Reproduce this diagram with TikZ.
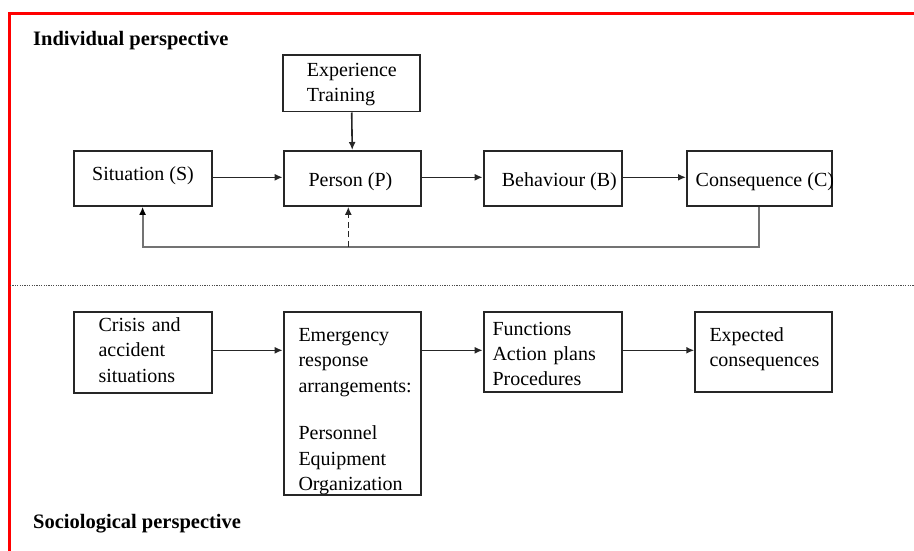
\documentclass[tikz,border=0pt]{standalone}
\usepackage{fontspec}
\setmainfont{Liberation Serif}
\usetikzlibrary{arrows.meta}
\begin{document}
\begin{tikzpicture}[x=1pt,y=-1pt,
  box/.style={draw=black!85, line width=1.8pt, inner sep=0pt, anchor=north west},
  lbl/.style={inner sep=0pt, anchor=base west, align=left, font=\fontsize{20}{25.3}\selectfont},
  title/.style={inner sep=0pt, anchor=base west, font=\fontsize{20.5}{24}\selectfont\bfseries},
  flow/.style={line width=1.6pt, draw=black!85, -{Latex[length=8pt,width=7pt]}},
  fb/.style={line width=2pt, draw=black!55, -{Latex[length=8pt,width=7pt,color=black]}},
  fbdash/.style={line width=1.6pt, draw=black!85, dash pattern=on 6pt off 3.5pt, -{Latex[length=8pt,width=7pt]}},
  frame/.style={draw=red, line width=3pt},
  divider/.style={draw=black!70, line width=1.2pt, dash pattern=on 1.2pt off 1.2pt}
]
\useasboundingbox (0,0) rectangle (914,551);

% red frame along the top and the left side
\draw[frame] (9,551) -- (9,14) -- (914,14);

% dotted divider between the two perspectives
\draw[divider] (10,285.7) -- (914,285.7);

% headings
\node[title] (indiv) at (33,45.5) {Individual perspective};
\node[title] (socio) at (33,528) {Sociological perspective};

% ---- individual perspective ----
\node[box, minimum width=137pt, minimum height=56.7pt] (exp) at (282.3,54) {};
\node[lbl, text width=120pt] (expT) at (306.7,76.5) {Experience\\Training};

\node[box, minimum width=138pt, minimum height=55pt] (sit) at (72.7,150) {};
\node[lbl] (sitT) at (92,180.5) {Situation (S)};

\node[box, minimum width=137.3pt, minimum height=55pt] (per) at (282.7,150) {};
\node[lbl] (perT) at (308.3,186.5) {Person (P)};

\node[box, minimum width=138.3pt, minimum height=55pt] (beh) at (482.7,150) {};
\node[lbl] (behT) at (501.7,186.5) {Behaviour (B)};

\node[box, minimum width=144.7pt, minimum height=55pt] (con) at (686,150) {};
\node[lbl] (conT) at (695.5,186.5) {Consequence (C)};

\draw[flow] (sit.east |- 0,177.3) -- (per.west |- 0,177.3);
\draw[flow] (per.east |- 0,177.3) -- (beh.west |- 0,177.3);
\draw[flow] (beh.east |- 0,177.3) -- (con.west |- 0,177.3);
\draw[flow] (exp.south) -- (per.north);

% feedback loop from the consequence back to situation and person
\coordinate (fbj) at (348.3,246.7);
\draw[fb] (con.south) -- (con.south |- fbj) -| (sit.south);
\draw[fbdash] (fbj) -- (fbj |- per.south);

% ---- sociological perspective ----
\node[box, minimum width=138pt, minimum height=81pt] (cri) at (72.7,310.7) {};
\node[lbl, text width=110pt] (criT) at (98.3,331.5) {Crisis and\\accident\\situations};

\node[box, minimum width=137.3pt, minimum height=183.3pt] (emr) at (282.7,310.7) {};
\node[lbl, text width=120pt] (emrT) at (298.3,341.5)
  {Emergency\\response\\arrangements:\\[22.5pt]Personnel\\Equipment\\Organization};

\node[box, minimum width=138.3pt, minimum height=80.3pt] (fun) at (482.7,310.7) {};
\node[lbl, text width=120pt] (funT) at (492.3,335) {Functions\\Action plans\\Procedures};

\node[box, minimum width=136.4pt, minimum height=80.3pt] (ecs) at (694.3,310.7) {};
\node[lbl, text width=120pt] (ecsT) at (709.3,341) {Expected\\consequences};

\draw[flow] (cri.east |- 0,350.3) -- (emr.west |- 0,350.3);
\draw[flow] (emr.east |- 0,350.3) -- (fun.west |- 0,350.3);
\draw[flow] (fun.east |- 0,350.3) -- (ecs.west |- 0,350.3);
\end{tikzpicture}
\end{document}
